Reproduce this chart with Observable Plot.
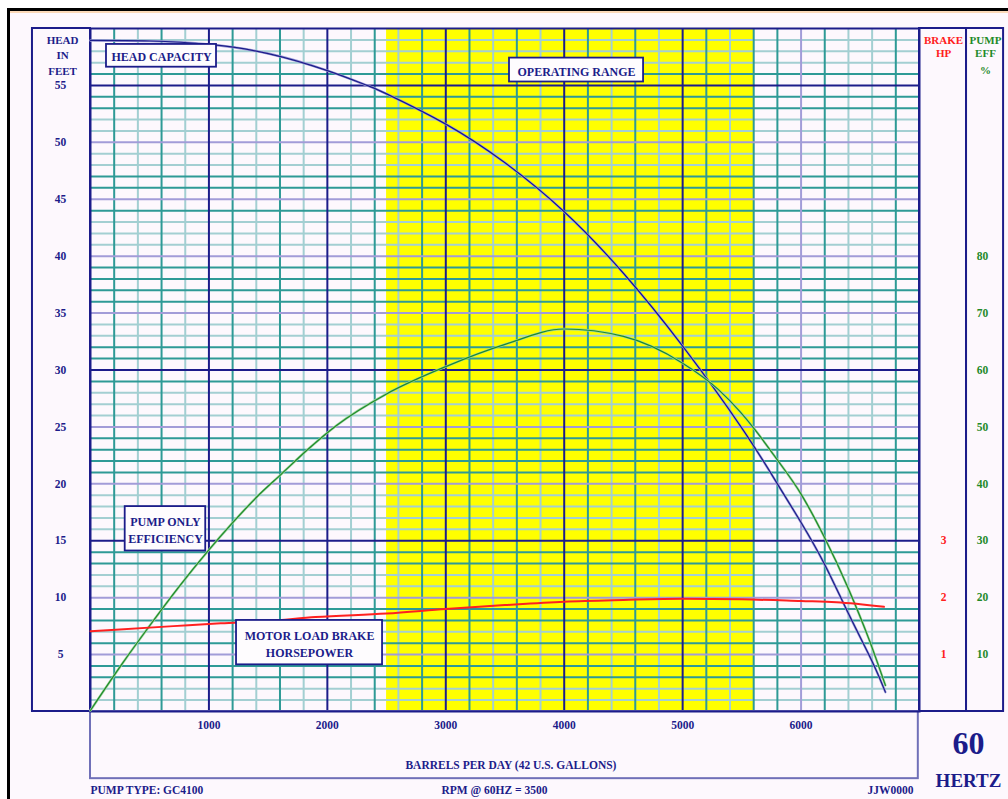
<!DOCTYPE html>
<html><head><meta charset="utf-8">
<script src="https://cdn.jsdelivr.net/npm/d3@7"></script>
<script src="https://cdn.jsdelivr.net/npm/@observablehq/plot@0.6"></script>
<style>
html,body{margin:0;padding:0;background:#fff;}
#wrap{position:relative;width:1008px;height:799px;overflow:hidden;}
#paper{position:absolute;left:7px;top:8px;right:-10px;bottom:-10px;border-top:3px solid #000;border-left:3px solid #000;background:#fdf8fd;}
#paper::before{content:"";position:absolute;left:0;right:0;top:0;height:2px;background:#fbd9b8;}
#chart{position:absolute;left:0;top:0;}
</style></head>
<body><div id="wrap"><div id="paper"></div><div id="chart"></div></div>
<script>
// ---------- data ----------
const headBarrels = [0,500,1000,1500,2000,2335,2500,3000,3500,4000,4500,5000,5500,5800,6000,6200,6400,6600,6712];
const headFeet    = [58.95,58.9,58.6,57.8,56.3,55.0,54.26,51.6,48.2,43.9,38.5,32.1,24.9,20.0,16.6,12.9,8.6,4.4,1.7];

const effBarrels = [0,268,490,743,996,1193,1419,1616,1827,2080,2500,3000,3500,4000,4500,5000,5300,5488,5600,5786,6000,6197,6395,6577,6712];
const effPct     = [0.2,8.4,14.8,21.8,28.3,33.0,38.0,41.8,45.9,50.3,55.8,60.6,64.5,67.2,65.9,61.2,56.6,52.6,49.8,44.6,38.2,30.6,21.8,12.5,4.6];

const hpBarrels = [0,700,1100,1500,1900,2500,3000,3500,4000,4500,5000,5500,6000,6300,6700];
const brakeHP   = [1.41,1.50,1.55,1.59,1.66,1.72,1.80,1.87,1.93,1.96,1.98,1.97,1.94,1.92,1.84];

const operatingRange = [{start: 2500, end: 5600}];

const xTicks = [1000,2000,3000,4000,5000,6000];
const headTicks = [5,10,15,20,25,30,35,40,45,50,55];
const hpTicks = [1,2,3];
const effTicks = [10,20,30,40,50,60,70,80];

// grid line classes (feet / barrels)
const hLight = [59,58,57,52,51,49,48,43,42,41,34,33,28,27,26,19,18,17,16,12,11,7,2,1];
const hTeal  = [56,54,53,47,46,44,39,38,37,36,32,31,29,24,23,22,21,14,13,9,8,6,4,3];
const hLav   = [50,45,40,35,25,20,10,5];
const hNavy  = [55,30,15];
const vTeal  = [200,600,1200,1600,2400,2800,3200,3600,4200,4600,5200,5600,5800,6200,6800];
const vLight = [400,800,1400,1800,2200,2600,3400,3800,4400,4800,5400,6400,6600];
const vNavy  = [1000,2000,3000,4000,5000];
const vLav   = [6000];

// annotation boxes (data units)
const boxes = [
  {label: "HEAD CAPACITY", x1: 135, x2: 1064, y1: 56.6, y2: 58.6},
  {label: "OPERATING RANGE", x1: 3538, x2: 4670, y1: 55.3, y2: 57.4},
  {label: "PUMP ONLY\nEFFICIENCY", x1: 293, x2: 973, y1: 14.1, y2: 18.0},
  {label: "MOTOR LOAD BRAKE\nHORSEPOWER", x1: 1233, x2: 2466, y1: 4.1, y2: 8.0}
];
const panels = [
  {x1: -490, x2: 0, y1: 0, y2: 60},
  {x1: 7000, x2: 7397, y1: 0, y2: 60},
  {x1: 7397, x2: 7710, y1: 0, y2: 60}
];
const bottomBox = [{x1: 0, x2: 6990, y1: -5.9, y2: 0}];

const navy = "#1c1c8a", teal = "#2e9a96", lightTeal = "#a3cfd2", lav = "#a29cd8",
      yellow = "#ffff00", red = "#ff2020", green = "#1f8a2a";

const headerLabels = [
  {text: "HEAD", x: -236, y: 58.95, c: navy},
  {text: "IN", x: -236, y: 57.63, c: navy},
  {text: "FEET", x: -236, y: 56.22, c: navy},
  {text: "BRAKE", x: 7203, y: 58.95, c: red},
  {text: "HP", x: 7203, y: 57.8, c: red},
  {text: "PUMP", x: 7557, y: 58.95, c: green},
  {text: "EFF", x: 7557, y: 57.8, c: green},
  {text: "%", x: 7557, y: 56.3, c: green}
];

const headData = headBarrels.map((q, i) => ({q, v: headFeet[i]}));
const effData = effBarrels.map((q, i) => ({q, v: effPct[i]}));
const hpData = hpBarrels.map((q, i) => ({q, v: brakeHP[i]}));

const fontFam = "'Liberation Serif', 'Times New Roman', serif";

const chart = Plot.plot({
  width: 1008, height: 799,
  marginLeft: 90, marginRight: 89, marginTop: 28, marginBottom: 88,
  x: {domain: [0, 7000]},
  y: {domain: [0, 60]},
  color: {type: "identity"},
  style: {background: "transparent", fontFamily: fontFam, fontWeight: "bold", fontSize: "11.5px", overflow: "visible"},
  marks: [
    Plot.rect(operatingRange, {x1: "start", x2: "end", y1: () => 0, y2: () => 60, fill: yellow}),
    Plot.ruleY(hLight, {stroke: lightTeal, strokeWidth: 2}),
    Plot.ruleX(vLight, {stroke: lightTeal, strokeWidth: 2}),
    Plot.ruleY(hTeal, {stroke: teal, strokeWidth: 2}),
    Plot.ruleX(vTeal, {stroke: teal, strokeWidth: 2}),
    Plot.ruleY(hLav, {stroke: lav, strokeWidth: 2}),
    Plot.ruleX(vLav, {stroke: lav, strokeWidth: 2}),
    Plot.ruleY(hNavy, {stroke: navy, strokeWidth: 2}),
    Plot.ruleX(vNavy, {stroke: navy, strokeWidth: 2}),
    Plot.rect(panels, {x1: "x1", x2: "x2", y1: "y1", y2: "y2", stroke: navy, strokeWidth: 2, fill: "none"}),
    Plot.rect(bottomBox, {x1: "x1", x2: "x2", y1: "y1", y2: "y2", stroke: "#7070b8", strokeWidth: 2, fill: "none"}),
    Plot.frame({stroke: navy, strokeWidth: 2}),
    // curves
    Plot.line(headData, {x: "q", y: "v", curve: "natural", stroke: "#9c9cd6", strokeWidth: 2.4}),
    Plot.line(headData, {x: "q", y: "v", curve: "natural", stroke: navy, strokeWidth: 1.2}),
    Plot.line(effData, {x: "q", y: d => d.v / 2, curve: "monotone-x", stroke: "#9fd69f", strokeWidth: 2.4}),
    Plot.line(effData, {x: "q", y: d => d.v / 2, curve: "monotone-x", stroke: "#1f8a2a", strokeWidth: 1.2}),
    Plot.line(hpData, {x: "q", y: d => d.v * 5, curve: "monotone-x", stroke: red, strokeWidth: 2}),
    // annotation boxes
    Plot.rect(boxes, {x1: "x1", x2: "x2", y1: "y1", y2: "y2", fill: "#fefcfe", stroke: navy, strokeWidth: 1.8}),
    Plot.text(boxes, {x: d => (d.x1 + d.x2) / 2, y: d => (d.y1 + d.y2) / 2, text: "label", fill: navy, fontSize: 12, lineHeight: 1.45}),
    // axes
    Plot.axisX({ticks: xTicks, tickSize: 0, tickPadding: 9, tickFormat: d3.format("d"), fill: navy, fontSize: 11.5, label: null}),
    Plot.axisY({anchor: "left", ticks: headTicks, tickSize: 0, tickPadding: 30, textAnchor: "middle", fill: navy, fontSize: 11.5, label: null}),
    Plot.axisY({anchor: "right", ticks: hpTicks.map(h => h * 5), tickFormat: d => d / 5, tickSize: 0, tickPadding: 24, textAnchor: "middle", fill: red, fontSize: 11.5, label: null}),
    Plot.axisY({anchor: "right", ticks: effTicks.map(e => e / 2), tickFormat: d => d * 2, tickSize: 0, tickPadding: 63, textAnchor: "middle", fill: green, fontSize: 11.5, label: null}),
    // headers
    Plot.text(headerLabels, {x: "x", y: "y", text: "text", fill: "c", fontSize: 11}),
    // footer texts
    Plot.text(["BARRELS PER DAY (42 U.S. GALLONS)"], {x: () => 3550, y: () => -4.74, text: d => d, fill: navy, fontSize: 11.5}),
    Plot.text(["PUMP TYPE: GC4100"], {x: () => 0, y: () => -6.95, text: d => d, fill: navy, fontSize: 11.5, textAnchor: "start"}),
    Plot.text(["RPM @ 60HZ = 3500"], {x: () => 3411, y: () => -6.95, text: d => d, fill: navy, fontSize: 11.5}),
    Plot.text(["JJW0000"], {x: () => 6950, y: () => -6.95, text: d => d, fill: navy, fontSize: 11.5, textAnchor: "end"}),
    Plot.text(["60"], {x: () => 7414, y: () => -2.85, text: d => d, fill: navy, fontSize: 32}),
    Plot.text(["HERTZ"], {x: () => 7414, y: () => -6.06, text: d => d, fill: navy, fontSize: 19})
  ]
});
document.getElementById("chart").appendChild(chart);
</script></body></html>
